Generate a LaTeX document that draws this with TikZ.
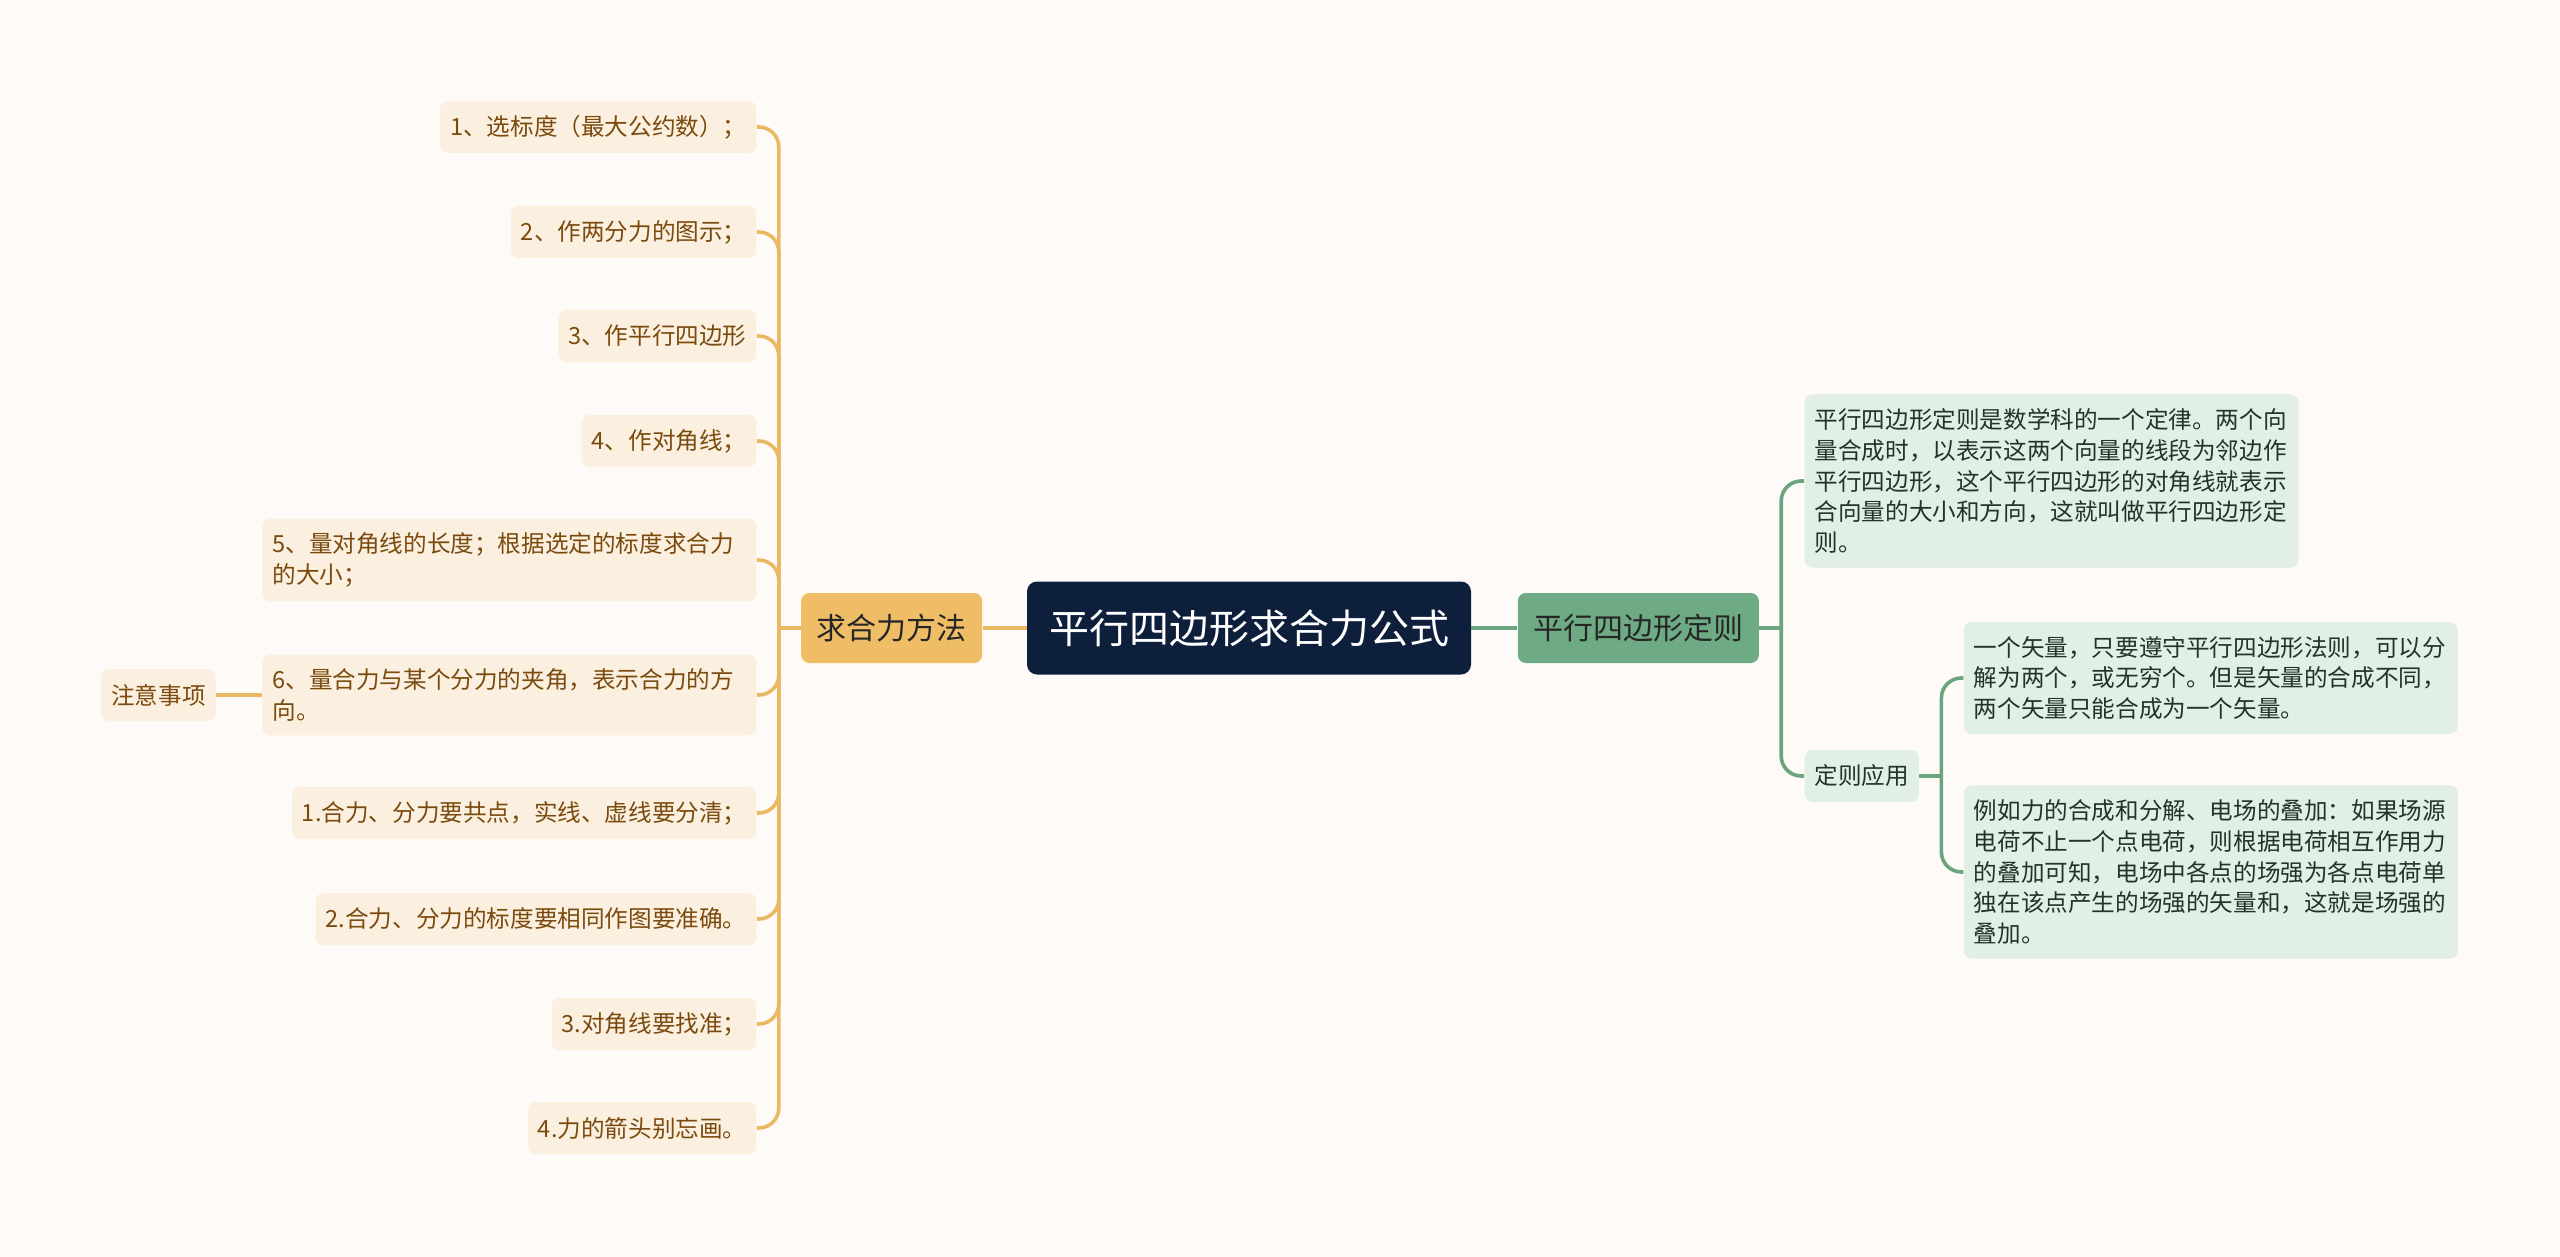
\documentclass[tikz,border=0pt]{standalone}
\usepackage{fontspec}
\setmainfont{Noto Sans CJK SC}
\usepackage{xcolor}
\usepackage{tikz}
\usetikzlibrary{positioning}

\definecolor{bgpaper}{HTML}{FDFAF8}
\definecolor{rootnavy}{HTML}{0E1F3B}
\definecolor{sumfill}{HTML}{EFBD66}
\definecolor{sumpale}{HTML}{FBF0DF}
\definecolor{sumtext}{HTML}{7B4A0E}
\definecolor{sumwire}{HTML}{EAB964}
\definecolor{rulefill}{HTML}{6EAB84}
\definecolor{rulepale}{HTML}{E2EFE6}
\definecolor{ruletext}{HTML}{24322A}
\definecolor{rulewire}{HTML}{6AA580}

\begin{document}
\begin{tikzpicture}[node distance = 22pt, auto]
	% % % % % % % % % % % % % % % % % % % % % % % % % % % % % %
	% Define styles
	\tikzstyle{block} = [rectangle, rounded corners=4pt, inner xsep=5pt, inner ysep=7pt,
					     minimum height=26pt, font=\fontsize{11.8}{15.4}\selectfont]
	\tikzstyle{sumleaf} = [block, fill=sumpale, text=sumtext]
	\tikzstyle{ruleleaf} = [block, fill=rulepale, text=ruletext]
	\tikzstyle{longtext} = [text width=237pt, align=left]
	\tikzstyle{topic} = [rectangle, rounded corners=4pt, inner xsep=7.75pt, minimum height=35pt,
					     text=black!85, font=\fontsize{15}{18}\selectfont]
	\tikzstyle{sumline} = [draw=sumwire, line width=1.8pt, rounded corners=10pt]
	\tikzstyle{ruleline} = [draw=rulewire, line width=1.8pt, rounded corners=10pt]

	% background
	\path [fill=bgpaper] (0,0) rectangle (1280pt,-628.5pt);

	% % % % % % % % % % % % % % % % % % % % % % % % % % % % % %
	% Place nodes
	% parent
	\node [rectangle, rounded corners=5pt, fill=rootnavy, text=white, inner xsep=11pt,
	       minimum height=46.5pt, font=\fontsize{20}{24}\selectfont] (root) at (624.5pt,-314pt) {平行四边形求合力公式};
	% child level 1
	\node [topic, fill=sumfill, left=of root] (qh) {求合力方法};
	\node [topic, fill=rulefill, right=23pt of root] (px) {平行四边形定则};
	% child level 2 left
	\node [sumleaf, left=of qh, yshift=250.5pt] (s1) {1、选标度（最大公约数）；};
	\node [sumleaf, left=of qh, yshift=198pt] (s2) {2、作两分力的图示；};
	\node [sumleaf, left=of qh, yshift=146pt] (s3) {3、作平行四边形};
	\node [sumleaf, left=of qh, yshift=93.5pt] (s4) {4、作对角线；};
	\node [sumleaf, longtext, left=of qh, yshift=34pt] (s5) {5、量对角线的长度；根据选定的标度求合力\\的大小；};
	\node [sumleaf, longtext, left=of qh, yshift=-33.5pt] (s6) {6、量合力与某个分力的夹角，表示合力的方\\向。};
	\node [sumleaf, left=of qh, yshift=-92.5pt] (s7) {1.合力、分力要共点，实线、虚线要分清；};
	\node [sumleaf, left=of qh, yshift=-145.5pt] (s8) {2.合力、分力的标度要相同作图要准确。};
	\node [sumleaf, left=of qh, yshift=-198pt] (s9) {3.对角线要找准；};
	\node [sumleaf, left=of qh, yshift=-250pt] (s10) {4.力的箭头别忘画。};
	% third level left
	\node [sumleaf, left=23pt of s6] (note) {注意事项};

	% child level 2 right
	\node [ruleleaf, longtext, right=22.5pt of px, yshift=73.5pt] (ra) {平行四边形定则是数学科的一个定律。两个向\\量合成时，以表示这两个向量的线段为邻边作\\平行四边形，这个平行四边形的对角线就表示\\合向量的大小和方向，这就叫做平行四边形定\\则。};
	\node [ruleleaf, right=22.5pt of px, yshift=-74pt] (use) {定则应用};
	% third level right
	\node [ruleleaf, longtext, right=of use, yshift=49pt] (ub) {一个矢量，只要遵守平行四边形法则，可以分\\解为两个，或无穷个。但是矢量的合成不同，\\两个矢量只能合成为一个矢量。};
	\node [ruleleaf, longtext, right=of use, yshift=-48pt] (uc) {例如力的合成和分解、电场的叠加：如果场源\\电荷不止一个点电荷，则根据电荷相互作用力\\的叠加可知，电场中各点的场强为各点电荷单\\独在该点产生的场强的矢量和，这就是场强的\\叠加。};

	% Draw edges
	\path [sumline] (root) -- (qh);
	\path [ruleline] (root) -- (px);
	% % left spine
	\path (qh.west) ++(-11pt,0) coordinate (sumjoin);
	\path [sumline] (qh) -- (sumjoin);
	\foreach \leaf in {s1,s2,s3,s4,s5,s6,s7,s8,s9,s10}
		\path [sumline] (sumjoin) |- (\leaf.east);
	\path [sumline] (s6) -- (note);
	% % right spine
	\path (px.east) ++(11pt,0) coordinate (rulejoin);
	\path [ruleline] (px) -- (rulejoin);
	\path [ruleline] (rulejoin) |- (ra.west);
	\path [ruleline] (rulejoin) |- (use.west);
	% % third level rule use
	\path (use.east) ++(11pt,0) coordinate (usejoin);
	\path [ruleline] (use) -- (usejoin);
	\path [ruleline] (usejoin) |- (ub.west);
	\path [ruleline] (usejoin) |- (uc.west);
\end{tikzpicture}
\end{document}
